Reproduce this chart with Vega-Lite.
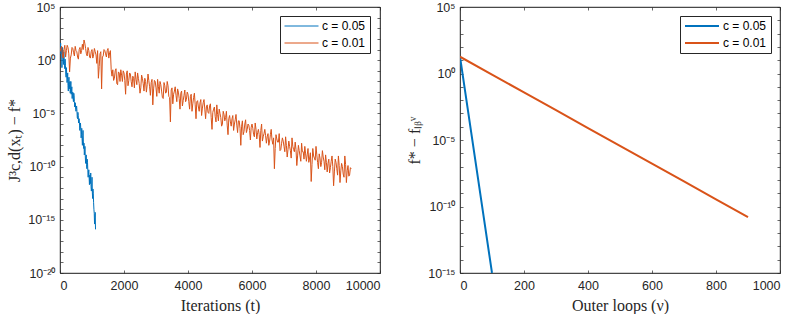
{
  "$schema": "https://vega.github.io/schema/vega-lite/v6.json",
  "background": "white",
  "padding": {"left": 6, "top": 0, "right": 0, "bottom": 0},
  "bounds": "flush",
  "spacing": 80,
  "config": {
    "view": {"stroke": "#262626", "strokeWidth": 0.7},
    "axis": {
      "grid": false,
      "domainColor": "#262626", "domainWidth": 0.7,
      "tickColor": "#262626", "tickWidth": 0.7, "tickSize": -3,
      "labelColor": "#262626", "labelFont": "Liberation Sans", "labelFontSize": 12.5,
      "titleFont": "Liberation Serif", "titleFontSize": 16, "titleFontWeight": "normal", "titleColor": "#262626"
    },
    "axisX": {"labelPadding": 9},
    "axisY": {"labelPadding": 8},
    "legend": {
      "orient": "none", "title": null, "strokeColor": "#262626", "fillColor": "white",
      "padding": 4, "symbolType": "stroke", "symbolSize": 1156, "clipHeight": 12, "rowPadding": 5,
      "labelFont": "Liberation Sans", "labelFontSize": 12, "labelColor": "#000000", "labelOffset": 3, "cornerRadius": 0
    }
  },
  "datasets": {
    "left": [
      {"t":0,"v":20,"s":"c = 0.05"},{"t":20,"v":39.8,"s":"c = 0.05"},{"t":40,"v":10,"s":"c = 0.05"},{"t":60,"v":0.2,"s":"c = 0.05"},{"t":80,"v":15.8,"s":"c = 0.05"},{"t":100,"v":2.51,"s":"c = 0.05"},{"t":120,"v":6.31,"s":"c = 0.05"},{"t":140,"v":0.501,"s":"c = 0.05"},{"t":160,"v":1.26,"s":"c = 0.05"},{"t":180,"v":0.0631,"s":"c = 0.05"},{"t":200,"v":0.2,"s":"c = 0.05"},{"t":220,"v":7.94e-3,"s":"c = 0.05"},{"t":240,"v":0.0631,"s":"c = 0.05"},{"t":260,"v":1.26e-3,"s":"c = 0.05"},{"t":280,"v":0.0251,"s":"c = 0.05"},{"t":300,"v":5.01e-3,"s":"c = 0.05"},{"t":320,"v":7.94e-4,"s":"c = 0.05"},{"t":340,"v":0.01,"s":"c = 0.05"},{"t":360,"v":1.58e-3,"s":"c = 0.05"},{"t":380,"v":2.51e-4,"s":"c = 0.05"},{"t":400,"v":1e-3,"s":"c = 0.05"},{"t":420,"v":1.26e-4,"s":"c = 0.05"},{"t":440,"v":5.01e-4,"s":"c = 0.05"},{"t":460,"v":3.98e-5,"s":"c = 0.05"},{"t":480,"v":1e-4,"s":"c = 0.05"},{"t":500,"v":1.58e-5,"s":"c = 0.05"},{"t":520,"v":5.01e-5,"s":"c = 0.05"},{"t":540,"v":3.98e-6,"s":"c = 0.05"},{"t":560,"v":1.26e-5,"s":"c = 0.05"},{"t":580,"v":1.26e-6,"s":"c = 0.05"},{"t":600,"v":3.16e-6,"s":"c = 0.05"},{"t":620,"v":2.51e-7,"s":"c = 0.05"},{"t":640,"v":1.26e-6,"s":"c = 0.05"},{"t":660,"v":5.01e-8,"s":"c = 0.05"},{"t":680,"v":3.98e-7,"s":"c = 0.05"},{"t":700,"v":1e-8,"s":"c = 0.05"},{"t":720,"v":2.51e-7,"s":"c = 0.05"},{"t":740,"v":5.01e-9,"s":"c = 0.05"},{"t":760,"v":1.26e-9,"s":"c = 0.05"},{"t":780,"v":7.94e-9,"s":"c = 0.05"},{"t":800,"v":2.0e-10,"s":"c = 0.05"},{"t":820,"v":1.26e-9,"s":"c = 0.05"},{"t":840,"v":6.31e-11,"s":"c = 0.05"},{"t":860,"v":2.51e-10,"s":"c = 0.05"},{"t":880,"v":1e-11,"s":"c = 0.05"},{"t":900,"v":5.01e-11,"s":"c = 0.05"},{"t":920,"v":2.0e-12,"s":"c = 0.05"},{"t":940,"v":6.31e-12,"s":"c = 0.05"},{"t":960,"v":2.51e-11,"s":"c = 0.05"},{"t":980,"v":5.01e-13,"s":"c = 0.05"},{"t":1000,"v":1e-11,"s":"c = 0.05"},{"t":1020,"v":1e-13,"s":"c = 0.05"},{"t":1040,"v":3.16e-13,"s":"c = 0.05"},{"t":1060,"v":1e-14,"s":"c = 0.05"},{"t":1080,"v":3.98e-16,"s":"c = 0.05"},{"t":1100,"v":5.01e-15,"s":"c = 0.05"},{"t":1110,"v":1.26e-16,"s":"c = 0.05"},
      {"t":10,"v":10,"s":"c = 0.05"},{"t":30,"v":3.98,"s":"c = 0.05"},{"t":50,"v":15.8,"s":"c = 0.05"},{"t":70,"v":1.58,"s":"c = 0.05"},{"t":90,"v":3.98,"s":"c = 0.05"},{"t":110,"v":0.398,"s":"c = 0.05"},{"t":130,"v":1.26,"s":"c = 0.05"},{"t":150,"v":0.158,"s":"c = 0.05"},{"t":170,"v":0.316,"s":"c = 0.05"},{"t":190,"v":0.0251,"s":"c = 0.05"},{"t":210,"v":0.0501,"s":"c = 0.05"},{"t":230,"v":0.0158,"s":"c = 0.05"},{"t":250,"v":3.98e-3,"s":"c = 0.05"},{"t":270,"v":0.01,"s":"c = 0.05"},{"t":290,"v":2.0e-3,"s":"c = 0.05"},{"t":310,"v":0.01,"s":"c = 0.05"},{"t":330,"v":2.51e-3,"s":"c = 0.05"},{"t":350,"v":6.31e-4,"s":"c = 0.05"},{"t":370,"v":3.16e-3,"s":"c = 0.05"},{"t":390,"v":7.94e-4,"s":"c = 0.05"},{"t":410,"v":2.51e-4,"s":"c = 0.05"},{"t":430,"v":7.94e-4,"s":"c = 0.05"},{"t":450,"v":1.26e-4,"s":"c = 0.05"},{"t":470,"v":7.94e-5,"s":"c = 0.05"},{"t":490,"v":2.51e-5,"s":"c = 0.05"},{"t":510,"v":3.98e-5,"s":"c = 0.05"},{"t":530,"v":1.58e-5,"s":"c = 0.05"},{"t":550,"v":3.16e-6,"s":"c = 0.05"},{"t":570,"v":6.31e-6,"s":"c = 0.05"},{"t":590,"v":2.51e-6,"s":"c = 0.05"},{"t":610,"v":7.94e-7,"s":"c = 0.05"},{"t":630,"v":6.31e-7,"s":"c = 0.05"},{"t":650,"v":3.16e-7,"s":"c = 0.05"},{"t":670,"v":1e-7,"s":"c = 0.05"},{"t":690,"v":3.98e-8,"s":"c = 0.05"},{"t":710,"v":7.94e-8,"s":"c = 0.05"},{"t":730,"v":2.51e-8,"s":"c = 0.05"},{"t":750,"v":1.58e-8,"s":"c = 0.05"},{"t":770,"v":2.51e-9,"s":"c = 0.05"},{"t":790,"v":1e-9,"s":"c = 0.05"},{"t":810,"v":6.31e-10,"s":"c = 0.05"},{"t":830,"v":1.58e-10,"s":"c = 0.05"},{"t":850,"v":5.01e-10,"s":"c = 0.05"},{"t":870,"v":3.98e-11,"s":"c = 0.05"},{"t":890,"v":2.51e-11,"s":"c = 0.05"},{"t":910,"v":1e-11,"s":"c = 0.05"},{"t":930,"v":1.58e-11,"s":"c = 0.05"},{"t":950,"v":2.51e-12,"s":"c = 0.05"},{"t":970,"v":1.26e-12,"s":"c = 0.05"},{"t":990,"v":1e-12,"s":"c = 0.05"},{"t":1010,"v":3.98e-13,"s":"c = 0.05"},{"t":1030,"v":7.94e-13,"s":"c = 0.05"},{"t":1050,"v":3.98e-14,"s":"c = 0.05"},{"t":1070,"v":3.98e-15,"s":"c = 0.05"},{"t":1090,"v":1.58e-15,"s":"c = 0.05"},
      {"t":0,"v":6.31,"s":"c = 0.01"},{"t":50,"v":20,"s":"c = 0.01"},{"t":100,"v":1.58,"s":"c = 0.01"},{"t":150,"v":25.1,"s":"c = 0.01"},{"t":200,"v":7.94,"s":"c = 0.01"},{"t":250,"v":15.8,"s":"c = 0.01"},{"t":300,"v":0.0794,"s":"c = 0.01"},{"t":350,"v":3.16,"s":"c = 0.01"},{"t":400,"v":12.6,"s":"c = 0.01"},{"t":450,"v":2.51,"s":"c = 0.01"},{"t":500,"v":7.94,"s":"c = 0.01"},{"t":550,"v":2.0,"s":"c = 0.01"},{"t":600,"v":10,"s":"c = 0.01"},{"t":650,"v":3.98,"s":"c = 0.01"},{"t":700,"v":31.6,"s":"c = 0.01"},{"t":750,"v":79.4,"s":"c = 0.01"},{"t":800,"v":12.6,"s":"c = 0.01"},{"t":850,"v":2.51,"s":"c = 0.01"},{"t":900,"v":7.94,"s":"c = 0.01"},{"t":950,"v":1.58,"s":"c = 0.01"},{"t":1000,"v":10,"s":"c = 0.01"},{"t":1050,"v":3.16,"s":"c = 0.01"},{"t":1100,"v":6.31,"s":"c = 0.01"},{"t":1150,"v":0.501,"s":"c = 0.01"},{"t":1200,"v":0.02,"s":"c = 0.01"},{"t":1250,"v":3.98,"s":"c = 0.01"},{"t":1300,"v":2.0e-3,"s":"c = 0.01"},{"t":1350,"v":2.51,"s":"c = 0.01"},{"t":1400,"v":7.94,"s":"c = 0.01"},{"t":1450,"v":2.0,"s":"c = 0.01"},{"t":1500,"v":12.6,"s":"c = 0.01"},{"t":1550,"v":5.01,"s":"c = 0.01"},{"t":1600,"v":0.126,"s":"c = 0.01"},
      {"t":1650,"v":0.126,"s":"c = 0.01"},{"t":1700,"v":0.02,"s":"c = 0.01"},{"t":1750,"v":0.158,"s":"c = 0.01"},{"t":1800,"v":5.01e-3,"s":"c = 0.01"},{"t":1850,"v":0.0631,"s":"c = 0.01"},{"t":1900,"v":0.126,"s":"c = 0.01"},{"t":1950,"v":0.01,"s":"c = 0.01"},{"t":2000,"v":0.0631,"s":"c = 0.01"},{"t":2050,"v":6.31e-4,"s":"c = 0.01"},{"t":2100,"v":0.1,"s":"c = 0.01"},{"t":2150,"v":0.0126,"s":"c = 0.01"},{"t":2200,"v":0.0501,"s":"c = 0.01"},{"t":2250,"v":3.16e-3,"s":"c = 0.01"},{"t":2300,"v":0.02,"s":"c = 0.01"},{"t":2350,"v":0.0794,"s":"c = 0.01"},{"t":2400,"v":5.01e-3,"s":"c = 0.01"},{"t":2450,"v":0.02,"s":"c = 0.01"},{"t":2500,"v":7.94e-4,"s":"c = 0.01"},{"t":2550,"v":0.0398,"s":"c = 0.01"},{"t":2600,"v":6.31e-3,"s":"c = 0.01"},{"t":2650,"v":0.02,"s":"c = 0.01"},{"t":2700,"v":1e-3,"s":"c = 0.01"},{"t":2750,"v":0.0501,"s":"c = 0.01"},{"t":2800,"v":3.16e-3,"s":"c = 0.01"},{"t":2850,"v":7.94e-3,"s":"c = 0.01"},{"t":2900,"v":6.31e-5,"s":"c = 0.01"},{"t":2950,"v":0.0126,"s":"c = 0.01"},{"t":3000,"v":2.51e-3,"s":"c = 0.01"},{"t":3050,"v":0.0158,"s":"c = 0.01"},{"t":3100,"v":7.94e-4,"s":"c = 0.01"},{"t":3150,"v":5.01e-3,"s":"c = 0.01"},{"t":3200,"v":3.16e-4,"s":"c = 0.01"},{"t":3250,"v":7.94e-3,"s":"c = 0.01"},{"t":3300,"v":7.94e-4,"s":"c = 0.01"},{"t":3350,"v":0.01,"s":"c = 0.01"},{"t":3400,"v":3.98e-4,"s":"c = 0.01"},{"t":3450,"v":1.58e-6,"s":"c = 0.01"},{"t":3500,"v":2.51e-3,"s":"c = 0.01"},{"t":3550,"v":6.31e-4,"s":"c = 0.01"},{"t":3600,"v":3.16e-3,"s":"c = 0.01"},{"t":3650,"v":1.26e-4,"s":"c = 0.01"},{"t":3700,"v":1e-3,"s":"c = 0.01"},{"t":3750,"v":2.51e-5,"s":"c = 0.01"},{"t":3800,"v":1.26e-3,"s":"c = 0.01"},{"t":3850,"v":1.58e-4,"s":"c = 0.01"},{"t":3900,"v":1.58e-3,"s":"c = 0.01"},{"t":3950,"v":2.0e-4,"s":"c = 0.01"},{"t":4000,"v":6.31e-4,"s":"c = 0.01"},{"t":4050,"v":2.51e-5,"s":"c = 0.01"},{"t":4100,"v":6.31e-4,"s":"c = 0.01"},{"t":4150,"v":7.94e-5,"s":"c = 0.01"},{"t":4200,"v":7.94e-4,"s":"c = 0.01"},{"t":4250,"v":3.16e-6,"s":"c = 0.01"},{"t":4300,"v":1.58e-4,"s":"c = 0.01"},{"t":4350,"v":1.58e-5,"s":"c = 0.01"},{"t":4400,"v":2.0e-4,"s":"c = 0.01"},{"t":4450,"v":3.16e-5,"s":"c = 0.01"},{"t":4500,"v":2.0e-4,"s":"c = 0.01"},{"t":4550,"v":3.16e-6,"s":"c = 0.01"},{"t":4600,"v":6.31e-5,"s":"c = 0.01"},{"t":4650,"v":1e-5,"s":"c = 0.01"},{"t":4700,"v":7.94e-5,"s":"c = 0.01"},{"t":4750,"v":3.16e-7,"s":"c = 0.01"},{"t":4800,"v":2.51e-5,"s":"c = 0.01"},{"t":4850,"v":5.01e-6,"s":"c = 0.01"},{"t":4900,"v":6.31e-5,"s":"c = 0.01"},{"t":4950,"v":2.0e-6,"s":"c = 0.01"},{"t":5000,"v":1e-5,"s":"c = 0.01"},{"t":5050,"v":6.31e-7,"s":"c = 0.01"},{"t":5100,"v":1.58e-5,"s":"c = 0.01"},{"t":5150,"v":2.0e-6,"s":"c = 0.01"},{"t":5200,"v":1.58e-5,"s":"c = 0.01"},{"t":5250,"v":1e-7,"s":"c = 0.01"},{"t":5300,"v":6.31e-6,"s":"c = 0.01"},{"t":5350,"v":6.31e-7,"s":"c = 0.01"},{"t":5400,"v":6.31e-6,"s":"c = 0.01"},{"t":5450,"v":1e-6,"s":"c = 0.01"},{"t":5500,"v":7.94e-6,"s":"c = 0.01"},{"t":5550,"v":1.58e-7,"s":"c = 0.01"},{"t":5600,"v":2.0e-6,"s":"c = 0.01"},{"t":5650,"v":1e-8,"s":"c = 0.01"},{"t":5700,"v":2.0e-6,"s":"c = 0.01"},{"t":5750,"v":2.0e-7,"s":"c = 0.01"},{"t":5800,"v":2.51e-6,"s":"c = 0.01"},{"t":5850,"v":3.16e-7,"s":"c = 0.01"},{"t":5900,"v":7.94e-7,"s":"c = 0.01"},{"t":5950,"v":3.16e-8,"s":"c = 0.01"},{"t":6000,"v":1e-6,"s":"c = 0.01"},{"t":6050,"v":1e-7,"s":"c = 0.01"},{"t":6100,"v":1.26e-6,"s":"c = 0.01"},{"t":6150,"v":3.98e-8,"s":"c = 0.01"},{"t":6200,"v":3.16e-7,"s":"c = 0.01"},{"t":6250,"v":6.31e-9,"s":"c = 0.01"},{"t":6300,"v":1e-6,"s":"c = 0.01"},{"t":6350,"v":6.31e-8,"s":"c = 0.01"},{"t":6400,"v":3.16e-7,"s":"c = 0.01"},{"t":6450,"v":1.58e-8,"s":"c = 0.01"},{"t":6500,"v":1.26e-7,"s":"c = 0.01"},{"t":6550,"v":2.51e-8,"s":"c = 0.01"},{"t":6600,"v":3.16e-7,"s":"c = 0.01"},{"t":6650,"v":1.26e-8,"s":"c = 0.01"},{"t":6700,"v":6.31e-11,"s":"c = 0.01"},{"t":6750,"v":1e-7,"s":"c = 0.01"},{"t":6800,"v":2.0e-8,"s":"c = 0.01"},{"t":6850,"v":1.26e-7,"s":"c = 0.01"},{"t":6900,"v":3.98e-9,"s":"c = 0.01"},{"t":6950,"v":5.01e-8,"s":"c = 0.01"},{"t":7000,"v":7.94e-9,"s":"c = 0.01"},{"t":7050,"v":6.31e-8,"s":"c = 0.01"},{"t":7100,"v":7.94e-10,"s":"c = 0.01"},{"t":7150,"v":2.51e-8,"s":"c = 0.01"},{"t":7200,"v":3.16e-9,"s":"c = 0.01"},{"t":7250,"v":5.01e-8,"s":"c = 0.01"},{"t":7300,"v":3.98e-9,"s":"c = 0.01"},{"t":7350,"v":2.0e-8,"s":"c = 0.01"},{"t":7400,"v":1.26e-10,"s":"c = 0.01"},{"t":7450,"v":1e-8,"s":"c = 0.01"},{"t":7500,"v":1e-9,"s":"c = 0.01"},{"t":7550,"v":1.58e-8,"s":"c = 0.01"},{"t":7600,"v":2.51e-9,"s":"c = 0.01"},{"t":7650,"v":7.94e-9,"s":"c = 0.01"},{"t":7700,"v":3.16e-10,"s":"c = 0.01"},{"t":7750,"v":5.01e-9,"s":"c = 0.01"},{"t":7800,"v":6.31e-10,"s":"c = 0.01"},{"t":7850,"v":3.98e-12,"s":"c = 0.01"},{"t":7900,"v":5.01e-9,"s":"c = 0.01"},{"t":7950,"v":6.31e-10,"s":"c = 0.01"},{"t":8000,"v":7.94e-9,"s":"c = 0.01"},{"t":8050,"v":2.51e-10,"s":"c = 0.01"},{"t":8100,"v":1.58e-9,"s":"c = 0.01"},{"t":8150,"v":1e-10,"s":"c = 0.01"},{"t":8200,"v":3.16e-9,"s":"c = 0.01"},{"t":8250,"v":3.16e-10,"s":"c = 0.01"},{"t":8300,"v":1.26e-9,"s":"c = 0.01"},{"t":8350,"v":3.16e-11,"s":"c = 0.01"},{"t":8400,"v":5.01e-10,"s":"c = 0.01"},{"t":8450,"v":7.94e-11,"s":"c = 0.01"},{"t":8500,"v":1e-9,"s":"c = 0.01"},{"t":8550,"v":1.58e-12,"s":"c = 0.01"},{"t":8600,"v":5.01e-10,"s":"c = 0.01"},{"t":8650,"v":6.31e-11,"s":"c = 0.01"},{"t":8700,"v":1e-9,"s":"c = 0.01"},{"t":8750,"v":3.16e-12,"s":"c = 0.01"},{"t":8800,"v":2.0e-10,"s":"c = 0.01"},{"t":8850,"v":2.0e-11,"s":"c = 0.01"},{"t":8900,"v":1e-9,"s":"c = 0.01"},{"t":8950,"v":3.16e-12,"s":"c = 0.01"},{"t":9000,"v":1.26e-10,"s":"c = 0.01"},{"t":9050,"v":1.58e-11,"s":"c = 0.01"},{"t":9100,"v":6.31e-11,"s":"c = 0.01"},
      {"t":25,"v":12.6,"s":"c = 0.01"},{"t":75,"v":3.16,"s":"c = 0.01"},{"t":125,"v":10,"s":"c = 0.01"},{"t":175,"v":2.0,"s":"c = 0.01"},{"t":225,"v":25.1,"s":"c = 0.01"},{"t":275,"v":3.98,"s":"c = 0.01"},{"t":325,"v":1.58,"s":"c = 0.01"},{"t":375,"v":15.8,"s":"c = 0.01"},{"t":425,"v":5.01,"s":"c = 0.01"},{"t":475,"v":20,"s":"c = 0.01"},{"t":525,"v":6.31,"s":"c = 0.01"},{"t":575,"v":1.26,"s":"c = 0.01"},{"t":625,"v":15.8,"s":"c = 0.01"},{"t":675,"v":7.94,"s":"c = 0.01"},{"t":725,"v":10,"s":"c = 0.01"},{"t":775,"v":39.8,"s":"c = 0.01"},{"t":825,"v":3.98,"s":"c = 0.01"},{"t":875,"v":15.8,"s":"c = 0.01"},{"t":925,"v":2.0,"s":"c = 0.01"},{"t":975,"v":6.31,"s":"c = 0.01"},{"t":1025,"v":1.58,"s":"c = 0.01"},{"t":1075,"v":12.6,"s":"c = 0.01"},{"t":1125,"v":3.16,"s":"c = 0.01"},{"t":1175,"v":7.94,"s":"c = 0.01"},{"t":1225,"v":0.251,"s":"c = 0.01"},{"t":1275,"v":6.31,"s":"c = 0.01"},{"t":1325,"v":2.0,"s":"c = 0.01"},{"t":1375,"v":10,"s":"c = 0.01"},{"t":1425,"v":3.98,"s":"c = 0.01"},{"t":1475,"v":7.94,"s":"c = 0.01"},{"t":1525,"v":1.58,"s":"c = 0.01"},{"t":1575,"v":7.94,"s":"c = 0.01"},
      {"t":1625,"v":0.0316,"s":"c = 0.01"},{"t":1675,"v":0.0126,"s":"c = 0.01"},{"t":1725,"v":0.1,"s":"c = 0.01"},{"t":1775,"v":6.31e-3,"s":"c = 0.01"},{"t":1825,"v":0.0794,"s":"c = 0.01"},{"t":1875,"v":0.01,"s":"c = 0.01"},{"t":1925,"v":0.0398,"s":"c = 0.01"},{"t":1975,"v":0.1,"s":"c = 0.01"},{"t":2025,"v":0.0126,"s":"c = 0.01"},{"t":2075,"v":0.0501,"s":"c = 0.01"},{"t":2125,"v":3.98e-3,"s":"c = 0.01"},{"t":2175,"v":0.0631,"s":"c = 0.01"},{"t":2225,"v":0.01,"s":"c = 0.01"},{"t":2275,"v":0.0316,"s":"c = 0.01"},{"t":2325,"v":2.51e-3,"s":"c = 0.01"},{"t":2375,"v":0.0158,"s":"c = 0.01"},{"t":2425,"v":0.0631,"s":"c = 0.01"},{"t":2475,"v":6.31e-3,"s":"c = 0.01"},{"t":2525,"v":2.51e-3,"s":"c = 0.01"},{"t":2575,"v":0.02,"s":"c = 0.01"},{"t":2625,"v":1.26e-3,"s":"c = 0.01"},{"t":2675,"v":0.01,"s":"c = 0.01"},{"t":2725,"v":5.01e-3,"s":"c = 0.01"},{"t":2775,"v":0.0126,"s":"c = 0.01"},{"t":2825,"v":5.01e-4,"s":"c = 0.01"},{"t":2875,"v":0.0158,"s":"c = 0.01"},{"t":2925,"v":2.0e-3,"s":"c = 0.01"},{"t":2975,"v":0.01,"s":"c = 0.01"},{"t":3025,"v":3.98e-4,"s":"c = 0.01"},{"t":3075,"v":3.16e-3,"s":"c = 0.01"},{"t":3125,"v":0.01,"s":"c = 0.01"},{"t":3175,"v":1.26e-3,"s":"c = 0.01"},{"t":3225,"v":2.51e-4,"s":"c = 0.01"},{"t":3275,"v":3.98e-3,"s":"c = 0.01"},{"t":3325,"v":1e-3,"s":"c = 0.01"},{"t":3375,"v":3.98e-3,"s":"c = 0.01"},{"t":3425,"v":3.16e-4,"s":"c = 0.01"},{"t":3475,"v":1.58e-3,"s":"c = 0.01"},{"t":3525,"v":7.94e-5,"s":"c = 0.01"},{"t":3575,"v":1.26e-3,"s":"c = 0.01"},{"t":3625,"v":5.01e-4,"s":"c = 0.01"},{"t":3675,"v":2.0e-3,"s":"c = 0.01"},{"t":3725,"v":2.51e-4,"s":"c = 0.01"},{"t":3775,"v":7.94e-4,"s":"c = 0.01"},{"t":3825,"v":5.01e-5,"s":"c = 0.01"},{"t":3875,"v":5.01e-4,"s":"c = 0.01"},{"t":3925,"v":1.26e-4,"s":"c = 0.01"},{"t":3975,"v":1e-3,"s":"c = 0.01"},{"t":4025,"v":1.26e-4,"s":"c = 0.01"},{"t":4075,"v":3.98e-4,"s":"c = 0.01"},{"t":4125,"v":1.58e-5,"s":"c = 0.01"},{"t":4175,"v":3.16e-4,"s":"c = 0.01"},{"t":4225,"v":6.31e-5,"s":"c = 0.01"},{"t":4275,"v":1.26e-4,"s":"c = 0.01"},{"t":4325,"v":3.98e-5,"s":"c = 0.01"},{"t":4375,"v":1e-4,"s":"c = 0.01"},{"t":4425,"v":6.31e-6,"s":"c = 0.01"},{"t":4475,"v":1e-4,"s":"c = 0.01"},{"t":4525,"v":2.51e-5,"s":"c = 0.01"},{"t":4575,"v":3.98e-5,"s":"c = 0.01"},{"t":4625,"v":1.26e-5,"s":"c = 0.01"},{"t":4675,"v":5.01e-5,"s":"c = 0.01"},{"t":4725,"v":3.98e-6,"s":"c = 0.01"},{"t":4775,"v":1.26e-5,"s":"c = 0.01"},{"t":4825,"v":3.98e-5,"s":"c = 0.01"},{"t":4875,"v":1.58e-6,"s":"c = 0.01"},{"t":4925,"v":7.94e-6,"s":"c = 0.01"},{"t":4975,"v":2.51e-5,"s":"c = 0.01"},{"t":5025,"v":3.98e-6,"s":"c = 0.01"},{"t":5075,"v":1e-6,"s":"c = 0.01"},{"t":5125,"v":7.94e-6,"s":"c = 0.01"},{"t":5175,"v":3.98e-6,"s":"c = 0.01"},{"t":5225,"v":7.94e-7,"s":"c = 0.01"},{"t":5275,"v":3.16e-6,"s":"c = 0.01"},{"t":5325,"v":1.58e-6,"s":"c = 0.01"},{"t":5375,"v":3.16e-6,"s":"c = 0.01"},{"t":5425,"v":2.51e-7,"s":"c = 0.01"},{"t":5475,"v":2.51e-6,"s":"c = 0.01"},{"t":5525,"v":7.94e-7,"s":"c = 0.01"},{"t":5575,"v":2.0e-6,"s":"c = 0.01"},{"t":5625,"v":3.98e-7,"s":"c = 0.01"},{"t":5675,"v":6.31e-7,"s":"c = 0.01"},{"t":5725,"v":1e-7,"s":"c = 0.01"},{"t":5775,"v":1e-6,"s":"c = 0.01"},{"t":5825,"v":1.58e-7,"s":"c = 0.01"},{"t":5875,"v":1e-6,"s":"c = 0.01"},{"t":5925,"v":2.51e-7,"s":"c = 0.01"},{"t":5975,"v":5.01e-7,"s":"c = 0.01"},{"t":6025,"v":3.98e-7,"s":"c = 0.01"},{"t":6075,"v":6.31e-8,"s":"c = 0.01"},{"t":6125,"v":3.16e-7,"s":"c = 0.01"},{"t":6175,"v":1.58e-7,"s":"c = 0.01"},{"t":6225,"v":1e-7,"s":"c = 0.01"},{"t":6275,"v":2.51e-7,"s":"c = 0.01"},{"t":6325,"v":2.51e-8,"s":"c = 0.01"},{"t":6375,"v":1.26e-7,"s":"c = 0.01"},{"t":6425,"v":7.94e-8,"s":"c = 0.01"},{"t":6475,"v":6.31e-8,"s":"c = 0.01"},{"t":6525,"v":1e-8,"s":"c = 0.01"},{"t":6575,"v":1e-7,"s":"c = 0.01"},{"t":6625,"v":3.16e-8,"s":"c = 0.01"},{"t":6675,"v":5.01e-8,"s":"c = 0.01"},{"t":6725,"v":5.01e-9,"s":"c = 0.01"},{"t":6775,"v":3.98e-8,"s":"c = 0.01"},{"t":6825,"v":2.0e-8,"s":"c = 0.01"},{"t":6875,"v":3.16e-9,"s":"c = 0.01"},{"t":6925,"v":1.58e-8,"s":"c = 0.01"},{"t":6975,"v":2.51e-8,"s":"c = 0.01"},{"t":7025,"v":2.51e-9,"s":"c = 0.01"},{"t":7075,"v":1e-8,"s":"c = 0.01"},{"t":7125,"v":3.98e-9,"s":"c = 0.01"},{"t":7175,"v":7.94e-9,"s":"c = 0.01"},{"t":7225,"v":6.31e-10,"s":"c = 0.01"},{"t":7275,"v":7.94e-9,"s":"c = 0.01"},{"t":7325,"v":2.51e-9,"s":"c = 0.01"},{"t":7375,"v":3.98e-9,"s":"c = 0.01"},{"t":7425,"v":1e-9,"s":"c = 0.01"},{"t":7475,"v":3.16e-9,"s":"c = 0.01"},{"t":7525,"v":3.16e-10,"s":"c = 0.01"},{"t":7575,"v":2.51e-9,"s":"c = 0.01"},{"t":7625,"v":5.01e-10,"s":"c = 0.01"},{"t":7675,"v":1.58e-9,"s":"c = 0.01"},{"t":7725,"v":1.26e-9,"s":"c = 0.01"},{"t":7775,"v":2.51e-10,"s":"c = 0.01"},{"t":7825,"v":2.0e-9,"s":"c = 0.01"},{"t":7875,"v":1.58e-10,"s":"c = 0.01"},{"t":7925,"v":1e-9,"s":"c = 0.01"},{"t":7975,"v":3.98e-10,"s":"c = 0.01"},{"t":8025,"v":1.26e-9,"s":"c = 0.01"},{"t":8075,"v":6.31e-11,"s":"c = 0.01"},{"t":8125,"v":6.31e-10,"s":"c = 0.01"},{"t":8175,"v":2.51e-10,"s":"c = 0.01"},{"t":8225,"v":7.94e-10,"s":"c = 0.01"},{"t":8275,"v":5.01e-11,"s":"c = 0.01"},{"t":8325,"v":2.51e-10,"s":"c = 0.01"},{"t":8375,"v":2.0e-10,"s":"c = 0.01"},{"t":8425,"v":2.51e-11,"s":"c = 0.01"},{"t":8475,"v":3.16e-10,"s":"c = 0.01"},{"t":8525,"v":1e-10,"s":"c = 0.01"},{"t":8575,"v":3.16e-11,"s":"c = 0.01"},{"t":8625,"v":2.51e-10,"s":"c = 0.01"},{"t":8675,"v":1.58e-11,"s":"c = 0.01"},{"t":8725,"v":1.26e-10,"s":"c = 0.01"},{"t":8775,"v":3.98e-11,"s":"c = 0.01"},{"t":8825,"v":1e-10,"s":"c = 0.01"},{"t":8875,"v":1e-11,"s":"c = 0.01"},{"t":8925,"v":1.58e-10,"s":"c = 0.01"},{"t":8975,"v":3.98e-11,"s":"c = 0.01"},{"t":9025,"v":1.26e-11,"s":"c = 0.01"},{"t":9075,"v":7.94e-11,"s":"c = 0.01"}
    ],
    "right": [
      {"n":0,"v":18.2,"s":"c = 0.05"},{"n":50,"v":1.35e-7,"s":"c = 0.05"},{"n":100,"v":1.0e-15,"s":"c = 0.05"},
      {"n":0,"v":18.2,"s":"c = 0.01"},{"n":100,"v":0.83,"s":"c = 0.01"},{"n":200,"v":0.038,"s":"c = 0.01"},{"n":300,"v":1.74e-3,"s":"c = 0.01"},{"n":400,"v":7.9e-5,"s":"c = 0.01"},{"n":500,"v":3.6e-6,"s":"c = 0.01"},{"n":600,"v":1.66e-7,"s":"c = 0.01"},{"n":700,"v":7.6e-9,"s":"c = 0.01"},{"n":800,"v":3.5e-10,"s":"c = 0.01"},{"n":900,"v":1.58e-11,"s":"c = 0.01"}
    ]
  },
  "resolve": {"scale": {"color": "independent"}, "legend": {"color": "independent"}},
  "hconcat": [
    {
      "width": 320, "height": 266,
      "data": {"name": "left"},
      "layer": [
        {
          "mark": {"type": "line", "strokeWidth": 1, "clip": true},
          "encoding": {
            "x": {"field": "t", "type": "quantitative", "scale": {"domain": [0, 10000], "nice": false},
                  "axis": {"values": [0, 2000, 4000, 6000, 8000, 10000], "format": "d", "title": "Iterations (t)", "titlePadding": 6}},
            "y": {"field": "v", "type": "quantitative", "scale": {"type": "log", "domain": [1e-20, 1e5], "nice": false},
                  "axis": {"values": [1e-20,1e-19,1e-18,1e-17,1e-16,1e-15,1e-14,1e-13,1e-12,1e-11,1e-10,1e-9,1e-8,1e-7,1e-6,1e-5,1e-4,1e-3,1e-2,1e-1,1,10,100,1000,10000,100000],
                           "labelExpr": "['10⁻²⁰','','','','','10⁻¹⁵','','','','','10⁻¹⁰','','','','','10⁻⁵','','','','','10⁰','','','','','10⁵'][round(log(datum.value)/LN10)+20]",
                           "title": "J³c,d(xₜ) − f*", "titlePadding": 5}},
            "color": {"field": "s", "type": "nominal", "scale": {"domain": ["c = 0.05", "c = 0.01"], "range": ["#0072BD", "#D95319"]},
                      "legend": {"legendX": 220, "legendY": 9, "symbolStrokeWidth": 1}}
          }
        },
        {
          "mark": {"type": "line", "opacity": 0},
          "encoding": {
            "x": {"field": "t", "type": "quantitative", "scale": {"domain": [0, 10000], "nice": false},
                  "axis": {"orient": "top", "values": [0, 2000, 4000, 6000, 8000, 10000], "labels": false, "title": null}},
            "y": {"field": "v", "type": "quantitative", "scale": {"type": "log", "domain": [1e-20, 1e5], "nice": false},
                  "axis": {"orient": "right", "values": [1e-20,1e-19,1e-18,1e-17,1e-16,1e-15,1e-14,1e-13,1e-12,1e-11,1e-10,1e-9,1e-8,1e-7,1e-6,1e-5,1e-4,1e-3,1e-2,1e-1,1,10,100,1000,10000,100000], "labels": false, "title": null}},
            "detail": {"field": "s"}
          }
        }
      ],
      "resolve": {"axis": {"x": "independent", "y": "independent"}}
    },
    {
      "width": 320, "height": 266,
      "data": {"name": "right"},
      "layer": [
        {
          "mark": {"type": "line", "strokeWidth": 2, "clip": true},
          "encoding": {
            "x": {"field": "n", "type": "quantitative", "scale": {"domain": [0, 1000], "nice": false},
                  "axis": {"values": [0, 200, 400, 600, 800, 1000], "format": "d", "title": "Outer loops (ν)", "titlePadding": 6}},
            "y": {"field": "v", "type": "quantitative", "scale": {"type": "log", "domain": [1e-15, 1e5], "nice": false},
                  "axis": {"values": [1e-15,1e-14,1e-13,1e-12,1e-11,1e-10,1e-9,1e-8,1e-7,1e-6,1e-5,1e-4,1e-3,1e-2,1e-1,1,10,100,1000,10000,100000],
                           "labelExpr": "['10⁻¹⁵','','','','','10⁻¹⁰','','','','','10⁻⁵','','','','','10⁰','','','','','10⁵'][round(log(datum.value)/LN10)+15]",
                           "title": "f* − fₗᵦᵛ", "titlePadding": 5}},
            "color": {"field": "s", "type": "nominal", "scale": {"domain": ["c = 0.05", "c = 0.01"], "range": ["#0072BD", "#D95319"]},
                      "legend": {"legendX": 220, "legendY": 9, "symbolStrokeWidth": 2}}
          }
        },
        {
          "mark": {"type": "line", "opacity": 0},
          "encoding": {
            "x": {"field": "n", "type": "quantitative", "scale": {"domain": [0, 1000], "nice": false},
                  "axis": {"orient": "top", "values": [0, 200, 400, 600, 800, 1000], "labels": false, "title": null}},
            "y": {"field": "v", "type": "quantitative", "scale": {"type": "log", "domain": [1e-15, 1e5], "nice": false},
                  "axis": {"orient": "right", "values": [1e-15,1e-14,1e-13,1e-12,1e-11,1e-10,1e-9,1e-8,1e-7,1e-6,1e-5,1e-4,1e-3,1e-2,1e-1,1,10,100,1000,10000,100000], "labels": false, "title": null}},
            "detail": {"field": "s"}
          }
        }
      ],
      "resolve": {"axis": {"x": "independent", "y": "independent"}}
    }
  ]
}
